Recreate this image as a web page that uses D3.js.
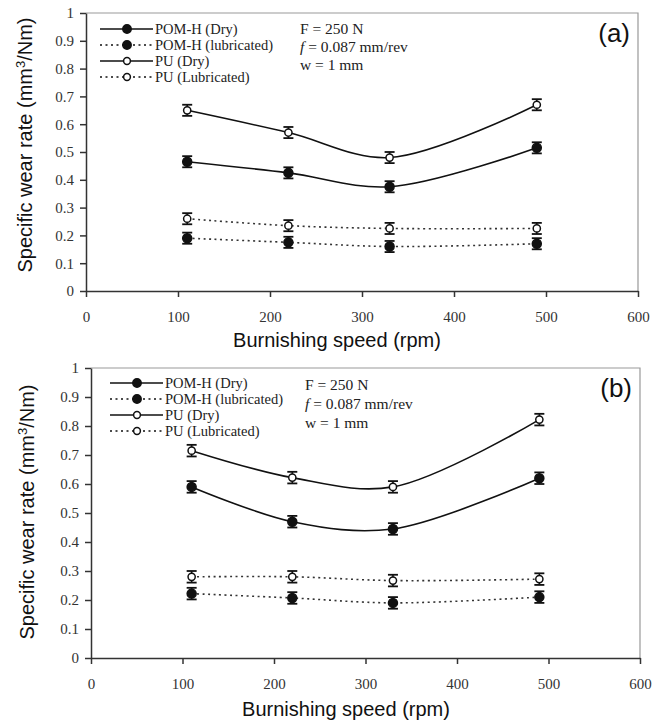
<!DOCTYPE html>
<html lang="en">
<head>
  <meta charset="utf-8">
  <title>Specific wear rate vs burnishing speed</title>
  <script src="https://d3js.org/d3.v7.min.js"></script>
  <style type="text/css">
  body { margin: 0; background: #fff; }
  .serif { font-family: "Liberation Serif", "Times New Roman", serif; fill: #222; }
  .sans { font-family: "Liberation Sans", Arial, sans-serif; fill: #111; }
  .axis path, .axis line { stroke: #333; stroke-width: 1.5; }
  </style>
</head>
<body>
<div id="chart"></div>
<script type="text/javascript">

// burnishing speeds (rpm)
var speeds = [110, 220, 330, 490];
var yTicks = [0, 0.1, 0.2, 0.3, 0.4, 0.5, 0.6, 0.7, 0.8, 0.9, 1];
var xTicks = [0, 100, 200, 300, 400, 500, 600];

// panel (a)
var pomDryA = [0.465, 0.425, 0.375, 0.515];
var pomLubA = [0.190, 0.175, 0.160, 0.170];
var puDryA  = [0.650, 0.570, 0.480, 0.670];
var puLubA  = [0.260, 0.235, 0.225, 0.225];

// panel (b)
var pomDryB = [0.590, 0.470, 0.445, 0.620];
var pomLubB = [0.222, 0.207, 0.190, 0.210];
var puDryB  = [0.715, 0.622, 0.590, 0.822];
var puLubB  = [0.280, 0.280, 0.267, 0.272];

var errBar = 0.02;

var seriesNames = ["POM-H (Dry)", "POM-H (lubricated)", "PU (Dry)", "PU (Lubricated)"];
var conditions = ["F = 250 N", "= 0.087 mm/rev", "w = 1 mm"];

var svg = d3.select("#chart").append("svg")
  .attr("width", 666)
  .attr("height", 725);

function styleTicks(sel) {
  sel.attr("font-family", null).attr("font-size", null);
  sel.selectAll("text")
    .style("font-family", "'Liberation Serif', serif")
    .style("font-size", "15px")
    .style("fill", "#333");
}

function drawPanel(p) {
  var x = d3.scaleLinear().domain([0, 600]).range([p.left, p.right]);
  var y = d3.scaleLinear().domain([0, 1]).range([p.bottom, p.top]);
  var g = svg.append("g");

  // frame (grey top/right)
  g.append("path")
    .attr("d", "M" + p.left + "," + p.top + "H" + p.right + "V" + p.bottom)
    .attr("fill", "none").attr("stroke", "#999").attr("stroke-width", 1.2);

  g.append("g").attr("class", "axis")
    .attr("transform", "translate(" + p.left + ",0)")
    .call(d3.axisLeft(y).tickValues(yTicks).tickSize(6).tickSizeOuter(0).tickPadding(6)
      .tickFormat(function(d) { return +d.toFixed(1); }))
    .call(styleTicks);

  g.append("g").attr("class", "axis")
    .attr("transform", "translate(0," + p.bottom + ")")
    .call(d3.axisBottom(x).tickValues(xTicks).tickSize(6).tickSizeOuter(0).tickPadding(14))
    .call(styleTicks);

  var series = [
    {vals: p.pomDry, filled: true, dotted: false},
    {vals: p.pomLub, filled: true, dotted: true},
    {vals: p.puDry, filled: false, dotted: false},
    {vals: p.puLub, filled: false, dotted: true}
  ];

  var line = d3.line()
    .x(function(d) { return x(d[0]); })
    .y(function(d) { return y(d[1]); })
    .curve(d3.curveCatmullRom.alpha(0.5));

  series.forEach(function(s) {
    var pts = speeds.map(function(sp, i) { return [sp, s.vals[i]]; });
    g.append("path")
      .attr("d", line(pts))
      .attr("fill", "none")
      .attr("stroke", s.dotted ? "#333" : "#111")
      .attr("stroke-width", 1.6)
      .attr("stroke-dasharray", s.dotted ? "2,3.5" : null);

    var pg = g.append("g");
    pts.forEach(function(d) {
      var cx = x(d[0]);
      var y1 = y(d[1] + errBar), y0 = y(d[1] - errBar);
      pg.append("line").attr("x1", cx).attr("x2", cx).attr("y1", y1).attr("y2", y0)
        .attr("stroke", "#111").attr("stroke-width", 1.6);
      [y1, y0].forEach(function(yy) {
        pg.append("line").attr("x1", cx - 5).attr("x2", cx + 5).attr("y1", yy).attr("y2", yy)
          .attr("stroke", "#111").attr("stroke-width", 1.8);
      });
      pg.append("circle").attr("cx", cx).attr("cy", y(d[1]))
        .attr("r", s.filled ? 4.5 : 3.6)
        .attr("fill", s.filled ? "#111" : "#fff")
        .attr("stroke", "#111").attr("stroke-width", 1.5);
    });
  });

  // legend
  series.forEach(function(s, i) {
    var ly = p.legY[i];
    g.append("line")
      .attr("x1", p.legX).attr("x2", p.legX + 53).attr("y1", ly).attr("y2", ly)
      .attr("stroke", "#111").attr("stroke-width", 1.6)
      .attr("stroke-dasharray", s.dotted ? "2,3.5" : null);
    g.append("circle").attr("cx", p.legX + 27).attr("cy", ly)
      .attr("r", s.filled ? 4.2 : 3.4)
      .attr("fill", s.filled ? "#111" : "#fff")
      .attr("stroke", "#111").attr("stroke-width", 1.5);
    g.append("text").attr("class", "serif")
      .attr("x", p.legX + 55).attr("y", ly + 5)
      .style("font-size", "14.5px")
      .text(seriesNames[i]);
  });

  // test conditions
  conditions.forEach(function(c, i) {
    var t = g.append("text").attr("class", "serif")
      .attr("x", p.condX).attr("y", p.condY[i] + 5)
      .style("font-size", "15.5px");
    if (i == 1) {
      t.append("tspan").style("font-style", "italic").text("f ");
    }
    t.append("tspan").text(c);
  });

  // panel label
  g.append("text").attr("class", "sans")
    .attr("x", p.right - 8).attr("y", p.top + 29)
    .attr("text-anchor", "end")
    .style("font-size", "26px")
    .text(p.label);

  // axis titles
  g.append("text").attr("class", "sans")
    .attr("transform", "translate(" + p.yTitleX + "," + p.yTitleY + ") rotate(-90)")
    .attr("text-anchor", "middle")
    .style("font-size", "20px")
    .html("Specific wear rate (mm<tspan baseline-shift='super' font-size='13px'>3</tspan>/Nm)");

  g.append("text").attr("class", "sans")
    .attr("x", p.xTitleX).attr("y", p.xTitleY)
    .attr("text-anchor", "middle")
    .style("font-size", "20px")
    .text("Burnishing speed (rpm)");
}

drawPanel({
  left: 86, right: 638, top: 13, bottom: 291,
  pomDry: pomDryA, pomLub: pomLubA, puDry: puDryA, puLub: puLubA,
  legX: 100, legY: [29, 45, 61, 77],
  condX: 300, condY: [29, 47, 65],
  label: "(a)",
  yTitleX: 32, yTitleY: 145,
  xTitleX: 337, xTitleY: 347
});

drawPanel({
  left: 91, right: 640, top: 368, bottom: 658,
  pomDry: pomDryB, pomLub: pomLubB, puDry: puDryB, puLub: puLubB,
  legX: 110, legY: [383, 399, 415, 431],
  condX: 305, condY: [385, 404, 423],
  label: "(b)",
  yTitleX: 34, yTitleY: 512,
  xTitleX: 346, xTitleY: 716
});

</script>
</body>
</html>
